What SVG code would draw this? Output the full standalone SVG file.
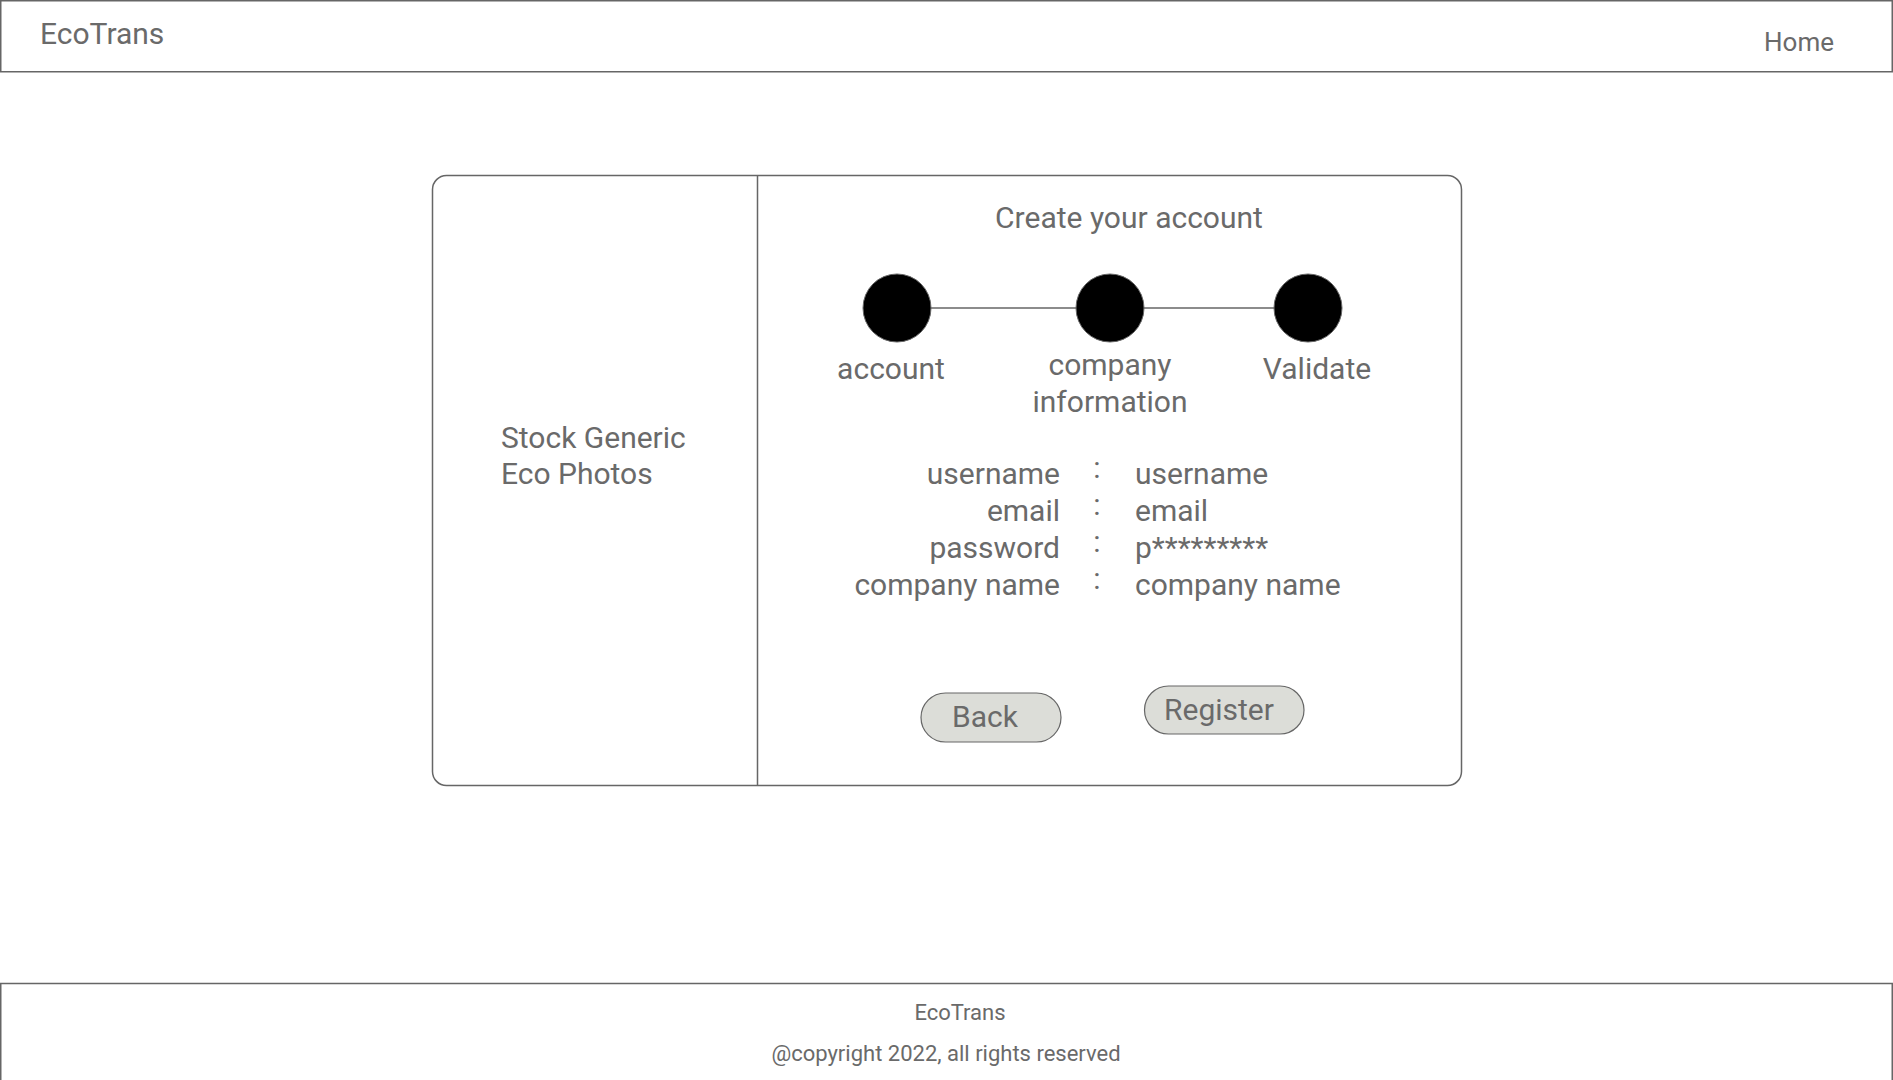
<svg xmlns="http://www.w3.org/2000/svg" width="1893" height="1080" viewBox="0 0 1893 1080">
<style>
text{font-family:Roboto,"Liberation Sans",sans-serif;fill:#6a6a6a;}
.big{font-size:30px;}
.sm{font-size:22px;}
.frame{fill:#ffffff;stroke:#666666;stroke-width:1.5;}
.btn{fill:#dcddd8;stroke:#666666;stroke-width:1.2;}
.dot{fill:#000000;stroke:#666666;stroke-width:1;}
.link{stroke:#666666;stroke-width:1.5;fill:none;}
</style>
<rect width="1893" height="1080" fill="#ffffff"/>
<g id="header">
<rect class="frame" x="0.75" y="0.75" width="1891.5" height="71"/>
<text class="big" x="40" y="44">EcoTrans</text>
<text x="1834" y="51" text-anchor="end" font-size="26">Home</text>
</g>
<g id="card">
<rect class="frame" x="432.5" y="175.5" width="1029" height="610" rx="14" ry="14"/>
<line class="link" x1="757.5" y1="175.5" x2="757.5" y2="785.5"/>
</g>
<g id="photo">
<text class="big" x="501" y="448">Stock Generic</text>
<text class="big" x="501" y="484">Eco Photos</text>
</g>
<g id="title">
<text class="big" x="1129" y="228" text-anchor="middle">Create your account</text>
</g>
<g id="connectors">
<line class="link" x1="931" y1="308" x2="1076" y2="308"/>
<line class="link" x1="1144" y1="308" x2="1274" y2="308"/>
</g>
<g id="step-account">
<circle class="dot" cx="897" cy="308" r="34"/>
<text class="big" x="891" y="379" text-anchor="middle">account</text>
</g>
<g id="step-company">
<circle class="dot" cx="1110" cy="308" r="34"/>
<text class="big" x="1110" y="375" text-anchor="middle">company</text>
<text class="big" x="1110" y="412" text-anchor="middle">information</text>
</g>
<g id="step-validate">
<circle class="dot" cx="1308" cy="308" r="34"/>
<text class="big" x="1317" y="379" text-anchor="middle">Validate</text>
</g>
<g id="form">
<text class="big" x="1060" y="484" text-anchor="end">username</text>
<text class="big" x="1060" y="521" text-anchor="end">email</text>
<text class="big" x="1060" y="558" text-anchor="end">password</text>
<text class="big" x="1060" y="595" text-anchor="end">company name</text>
<text class="big" x="1097" y="478" text-anchor="middle">:</text>
<text class="big" x="1097" y="515" text-anchor="middle">:</text>
<text class="big" x="1097" y="552" text-anchor="middle">:</text>
<text class="big" x="1097" y="589" text-anchor="middle">:</text>
<text class="big" x="1135" y="484">username</text>
<text class="big" x="1135" y="521">email</text>
<text class="big" x="1135" y="558">p*********</text>
<text class="big" x="1135" y="595">company name</text>
</g>
<g id="btn-back">
<rect class="btn" x="921" y="693" width="140" height="49" rx="24.5" ry="24.5"/>
<text class="big" x="985" y="727" text-anchor="middle">Back</text>
</g>
<g id="btn-register">
<rect class="btn" x="1144.5" y="686" width="159.5" height="48" rx="24" ry="24"/>
<text class="big" x="1219" y="720" text-anchor="middle">Register</text>
</g>
<g id="footer">
<rect class="frame" x="0.75" y="983.5" width="1891.5" height="100"/>
<text class="sm" x="960" y="1020" text-anchor="middle">EcoTrans</text>
<text class="sm" x="946" y="1061" text-anchor="middle">@copyright 2022, all rights reserved</text>
</g>
</svg>
